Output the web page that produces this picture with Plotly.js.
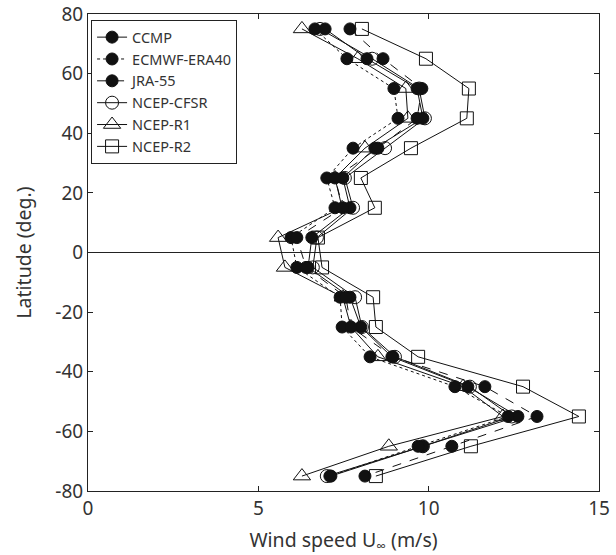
<!DOCTYPE html>
<html>
<head>
<meta charset="utf-8">
<script src="https://cdn.plot.ly/plotly-3.0.1.min.js"></script>
<style>html,body{margin:0;padding:0;background:#fff;}#chart{width:616px;height:555px;}</style>
</head>
<body>
<div id="chart"></div>
<script>
const latitude = [75, 65, 55, 45, 35, 25, 15, 5, -5, -15, -25, -35, -45, -55, -65, -75];
const ccmp     = [6.96, 8.19, 9.66, 9.83, 8.42, 7.48, 7.69, 6.57, 6.46, 7.69, 8.01, 8.92, 11.15, 12.62, 9.83, 7.13];
const ecmwf    = [6.66, 7.60, 8.98, 9.10, 7.78, 7.01, 7.25, 5.96, 6.13, 7.40, 7.46, 8.28, 10.77, 12.33, 9.69, 7.10];
const jra55    = [7.69, 8.66, 9.80, 9.66, 8.51, 7.25, 7.48, 6.13, 6.40, 7.57, 7.72, 8.95, 11.65, 13.18, 10.68, 8.13];
const cfsr     = [6.81, 8.34, 9.72, 9.89, 8.72, 7.54, 7.78, 6.72, 6.60, 7.84, 8.04, 9.01, 11.21, 12.44, 9.83, 7.01];
const r1       = [6.28, 7.92, 9.33, 9.39, 8.13, 7.25, 7.46, 5.58, 5.78, 7.48, 7.72, 8.51, 11.01, 12.18, 8.83, 6.28];
const r2       = [8.04, 9.92, 11.18, 11.12, 9.48, 8.01, 8.42, 6.75, 6.87, 8.37, 8.45, 9.69, 12.77, 14.41, 11.24, 8.45];
const seriesNames = ["CCMP", "ECMWF-ERA40", "JRA-55", "NCEP-CFSR", "NCEP-R1", "NCEP-R2"];
const xTicks = [0, 5, 10, 15];
const yTicks = [-80, -60, -40, -20, 0, 20, 40, 60, 80];

const font = "'Noto Sans', 'Open Sans', sans-serif";
function tr(name, x, dash, symbol, size) {
  return {
    type: 'scatter', mode: 'lines+markers', name: name,
    x: x, y: latitude,
    line: {color: '#111', width: 1, dash: dash},
    marker: {symbol: symbol, size: size, color: '#111', line: {color: '#111', width: 1}}
  };
}
const data = [
  tr(seriesNames[0], ccmp, 'solid', 'circle', 12),
  tr(seriesNames[1], ecmwf, 'dot', 'circle', 12),
  tr(seriesNames[2], jra55, 'dash', 'circle', 12),
  tr(seriesNames[3], cfsr, 'solid', 'circle-open', 13),
  tr(seriesNames[4], r1, 'solid', 'triangle-up-open', 15),
  tr(seriesNames[5], r2, 'solid', 'square-open', 13)
];
const axisCommon = {
  showgrid: false, showline: true, linecolor: '#222', linewidth: 1, mirror: 'ticks',
  ticks: 'inside', ticklen: 5, tickcolor: '#222',
  tickfont: {family: font, size: 19, color: '#333'}
};
const layout = {
  width: 616, height: 555,
  margin: {l: 88, r: 17, t: 14, b: 64},
  paper_bgcolor: '#fff', plot_bgcolor: '#fff',
  font: {family: font, color: '#333'},
  xaxis: Object.assign({}, axisCommon, {
    range: [0, 15], tickvals: xTicks, ticktext: xTicks.map(String), zeroline: false,
    title: {text: 'Wind speed U<sub>∞</sub> (m/s)', font: {family: font, size: 19.5, color: '#333'}, standoff: 14}
  }),
  yaxis: Object.assign({}, axisCommon, {
    range: [-80, 80], tickvals: yTicks, ticktext: yTicks.map(String),
    zeroline: true, zerolinecolor: '#222', zerolinewidth: 1,
    title: {text: 'Latitude (deg.)', font: {family: font, size: 19.5, color: '#333'}, standoff: 18}
  }),
  showlegend: true,
  legend: {
    x: 0.006, y: 0.987, xanchor: 'left', yanchor: 'top',
    bgcolor: '#fff', bordercolor: '#222', borderwidth: 1,
    font: {family: font, size: 14.5, color: '#333'},
    tracegroupgap: 0, itemwidth: 30
  }
};
Plotly.newPlot('chart', data, layout, {displayModeBar: false, staticPlot: true});
</script>
</body>
</html>
